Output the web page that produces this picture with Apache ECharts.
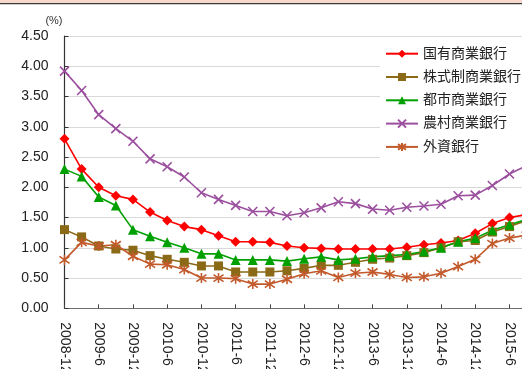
<!DOCTYPE html>
<html>
<head>
<meta charset="utf-8">
<script src="https://cdn.jsdelivr.net/npm/echarts@6/dist/echarts.min.js"></script>
<style>
  html, body { margin: 0; padding: 0; background: #fff; }
  #chart { width: 522px; height: 369px; }
</style>
</head>
<body>
<div id="chart"></div>
<script>
// Quarterly non-performing loan ratio by bank type (%)
var categories = [
  '2008-12', '2009-3', '2009-6', '2009-9', '2009-12', '2010-3', '2010-6', '2010-9',
  '2010-12', '2011-3', '2011-6', '2011-9', '2011-12', '2012-3', '2012-6', '2012-9',
  '2012-12', '2013-3', '2013-6', '2013-9', '2013-12', '2014-3', '2014-6', '2014-9',
  '2014-12', '2015-3', '2015-6', '2015-9'
];

var stateOwned = [2.80, 2.30, 2.00, 1.86, 1.80, 1.59, 1.45, 1.35, 1.30, 1.20, 1.10, 1.10, 1.09, 1.03,
  1.00, 0.99, 0.98, 0.98, 0.98, 0.98, 1.01, 1.05, 1.08, 1.12, 1.24, 1.40, 1.50, 1.55];
var jointStock = [1.30, 1.18, 1.03, 0.98, 0.96, 0.87, 0.81, 0.76, 0.70, 0.70, 0.60, 0.60, 0.60, 0.62,
  0.66, 0.71, 0.71, 0.76, 0.81, 0.83, 0.87, 0.92, 1.00, 1.10, 1.12, 1.26, 1.35, 1.45];
var cityBanks = [2.30, 2.18, 1.84, 1.70, 1.30, 1.19, 1.09, 1.00, 0.90, 0.90, 0.80, 0.80, 0.80, 0.78,
  0.82, 0.85, 0.80, 0.82, 0.85, 0.87, 0.89, 0.94, 1.00, 1.10, 1.16, 1.29, 1.38, 1.47];
var ruralBanks = [3.92, 3.60, 3.20, 2.97, 2.76, 2.47, 2.34, 2.17, 1.91, 1.80, 1.70, 1.60, 1.60, 1.53,
  1.58, 1.66, 1.76, 1.73, 1.64, 1.62, 1.67, 1.69, 1.72, 1.86, 1.87, 2.03, 2.22, 2.36];
var foreignBanks = [0.80, 1.09, 1.03, 1.05, 0.86, 0.73, 0.72, 0.64, 0.50, 0.50, 0.49, 0.40, 0.40, 0.48,
  0.57, 0.62, 0.51, 0.58, 0.60, 0.56, 0.51, 0.52, 0.58, 0.69, 0.81, 1.07, 1.16, 1.21];

var seriesNames = ['国有商業銀行', '株式制商業銀行', '都市商業銀行', '農村商業銀行', '外資銀行'];

var FONT = "'Liberation Sans', 'Noto Sans CJK JP', sans-serif";
var CROSS = 'path://M0,0L10,10M10,0L0,10';
var STAR = 'path://M5,0L5,10M0,1.5L10,8.5M0,8.5L10,1.5';

function lineSeries(name, data, color, symbol, size, hollow) {
  return {
    name: name,
    type: 'line',
    data: data,
    symbol: symbol,
    symbolSize: size,
    showSymbol: true,
    lineStyle: { color: color, width: 1.6 },
    itemStyle: hollow
      ? { color: 'rgba(0,0,0,0)', borderColor: color, borderWidth: 1.6 }
      : { color: color, borderColor: color, borderWidth: 0 },
    emphasis: { disabled: true },
    animation: false
  };
}

var chart = echarts.init(document.getElementById('chart'), null, { renderer: 'canvas' });
chart.setOption({
  backgroundColor: '#fff',
  animation: false,
  textStyle: { fontFamily: FONT },
  graphic: [
    { type: 'rect', left: 0, top: 0, shape: { width: 522, height: 3 }, style: { fill: '#F8D8CC' }, silent: true },
    { type: 'rect', left: 0, top: 3, shape: { width: 522, height: 1.2 }, style: { fill: '#3a3a3a' }, silent: true }
  ],
  grid: { left: 64.5, top: 36, right: -4.6, bottom: 60.7, containLabel: false, outerBoundsMode: 'none' },
  legend: {
    orient: 'vertical',
    left: 380,
    top: 40,
    padding: [6.7, 10, 6, 5],
    backgroundColor: '#fff',
    itemWidth: 32,
    itemHeight: 10,
    itemGap: 9.3,
    textStyle: { fontSize: 14, color: '#222', fontFamily: FONT },
    data: seriesNames
  },
  xAxis: {
    type: 'category',
    data: categories,
    boundaryGap: false,
    axisLine: { lineStyle: { color: '#6e6e6e', width: 1.2 } },
    axisTick: { show: true, inside: true, length: 4, interval: 1, lineStyle: { color: '#444' } },
    axisLabel: { interval: 1, rotate: -90, margin: 14, fontSize: 14, color: '#222', fontFamily: FONT },
    splitLine: { show: false }
  },
  yAxis: {
    type: 'value',
    min: 0,
    max: 4.5,
    interval: 0.5,
    name: '(%)',
    nameLocation: 'end',
    nameGap: 10,
    nameTextStyle: { fontSize: 11, color: '#333', align: 'right', padding: [0, 2, 0, 0], fontFamily: FONT },
    axisLine: { show: true, lineStyle: { color: '#333', width: 1.2 } },
    axisTick: { show: true, inside: true, length: 4, lineStyle: { color: '#333' } },
    axisLabel: {
      margin: 16, fontSize: 14, color: '#222', fontFamily: FONT,
      formatter: function (v) { return v.toFixed(2); }
    },
    splitLine: { show: true, lineStyle: { color: '#d9d9d9', width: 1 } }
  },
  series: [
    lineSeries(seriesNames[0], stateOwned, '#FF0000', 'diamond', 10, false),
    lineSeries(seriesNames[1], jointStock, '#8B6A17', 'rect', 9, false),
    lineSeries(seriesNames[2], cityBanks, '#00A000', 'triangle', 10, false),
    lineSeries(seriesNames[3], ruralBanks, '#9B4F9E', CROSS, 9, true),
    lineSeries(seriesNames[4], foreignBanks, '#C25A2C', STAR, 10, true)
  ]
});
</script>
</body>
</html>
